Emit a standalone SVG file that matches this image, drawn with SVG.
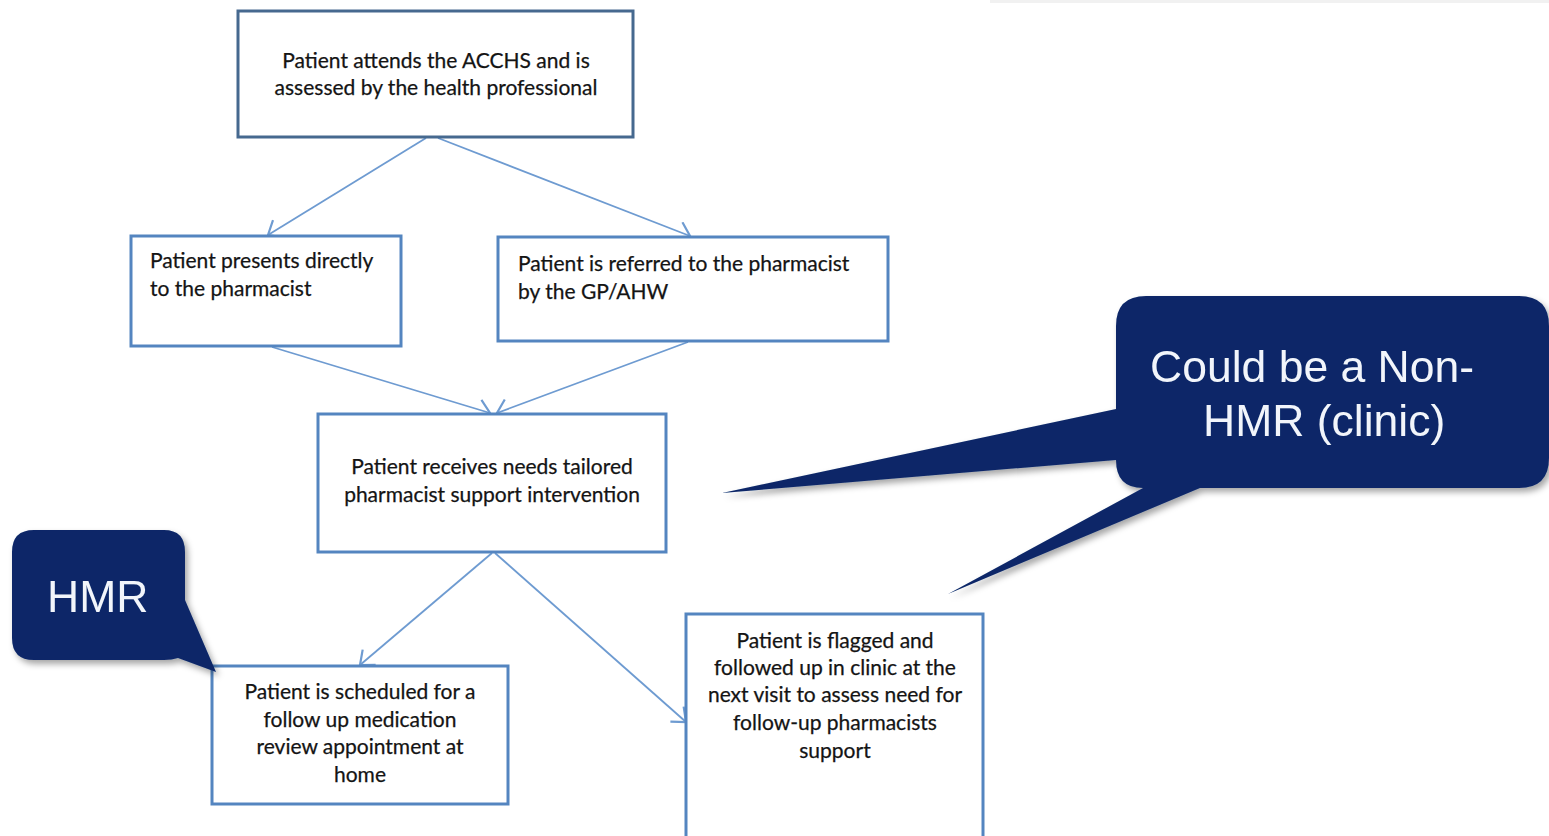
<svg xmlns="http://www.w3.org/2000/svg" width="1549" height="836" viewBox="0 0 1549 836">
<defs>
<style>
.box{fill:#ffffff;stroke:#5485c0;stroke-width:3}
.box.top{stroke:#46698f}
.t{font-family:Lato,"Liberation Sans",sans-serif;font-size:21px;fill:#141414;stroke:#141414;stroke-width:0.25}
.c{text-anchor:middle}
.conn{stroke:#6e9bd1;stroke-width:1.8;fill:none;marker-end:url(#arr)}
.call{fill:#0b2868}
.ct{font-family:"Liberation Sans",Arial,sans-serif;font-size:44.5px;fill:#f2f5fb}
</style>
<marker id="arr" viewBox="0 0 16 22" refX="14" refY="11" markerWidth="16" markerHeight="22" markerUnits="userSpaceOnUse" orient="auto">
<path d="M2,1 L14,11 L2,21" fill="none" stroke="#6e9bd1" stroke-width="2.2"/>
</marker>
<filter id="sh" x="-10%" y="-10%" width="130%" height="130%">
<feDropShadow dx="3" dy="4" stdDeviation="3" flood-color="#000" flood-opacity="0.35"/>
</filter>
</defs>
<rect width="1549" height="836" fill="#ffffff"/>
<rect x="990" y="0" width="559" height="3" fill="#f1f1f1"/>

<g id="connectors">
<line class="conn" x1="426" y1="138" x2="268" y2="235"/>
<line class="conn" x1="438" y1="138" x2="690" y2="236"/>
<line class="conn" x1="272" y1="347" x2="490" y2="413"/>
<line class="conn" x1="688" y1="342" x2="497" y2="413"/>
<line class="conn" x1="492" y1="553" x2="360" y2="665"/>
<line class="conn" x1="495" y1="553" x2="686" y2="722"/>
</g>

<g id="n1">
<rect class="box top" x="238" y="11" width="395" height="126"/>
<text class="t c" x="436" y="68">Patient attends the ACCHS and is</text>
<text class="t c" x="436" y="95">assessed by the health professional</text>
</g>
<g id="n2">
<rect class="box" x="131" y="236" width="270" height="110"/>
<text class="t" x="150" y="268">Patient presents directly</text>
<text class="t" x="150" y="296">to the pharmacist</text>
</g>
<g id="n3">
<rect class="box" x="498" y="237" width="390" height="104"/>
<text class="t" x="518" y="271">Patient is referred to the pharmacist</text>
<text class="t" x="518" y="299">by the GP/AHW</text>
</g>
<g id="n4">
<rect class="box" x="318" y="414" width="348" height="138"/>
<text class="t c" x="492" y="474">Patient receives needs tailored</text>
<text class="t c" x="492" y="502">pharmacist support intervention</text>
</g>
<g id="n5">
<rect class="box" x="212" y="666" width="296" height="138"/>
<text class="t c" x="360" y="699">Patient is scheduled for a</text>
<text class="t c" x="360" y="727">follow up medication</text>
<text class="t c" x="360" y="754">review appointment at</text>
<text class="t c" x="360" y="782">home</text>
</g>
<g id="n6">
<rect class="box" x="686" y="614" width="297" height="240"/>
<text class="t c" x="835" y="648">Patient is flagged and</text>
<text class="t c" x="835" y="675">followed up in clinic at the</text>
<text class="t c" x="835" y="702">next visit to assess need for</text>
<text class="t c" x="835" y="730">follow-up pharmacists</text>
<text class="t c" x="835" y="758">support</text>
</g>

<g id="callout-nonhmr" filter="url(#sh)">
<path class="call" d="M1146,296 H1519 Q1549,296 1549,326 V458 Q1549,488 1519,488 H1200 L948,594 L1143,488 Q1116,488 1116,460 L722,493 L1116,409 V326 Q1116,296 1146,296 Z"/>
<text class="ct" x="1150" y="382">Could be a Non-</text>
<text class="ct" x="1203" y="436">HMR (clinic)</text>
</g>

<g id="callout-hmr" filter="url(#sh)">
<path class="call" d="M34,530 H164 Q185,530 185,552 V600 L216,672 L178,658 Q172,660 164,660 H34 Q12,660 12,638 V552 Q12,530 34,530 Z"/>
<text class="ct" x="47" y="612">HMR</text>
</g>
</svg>
